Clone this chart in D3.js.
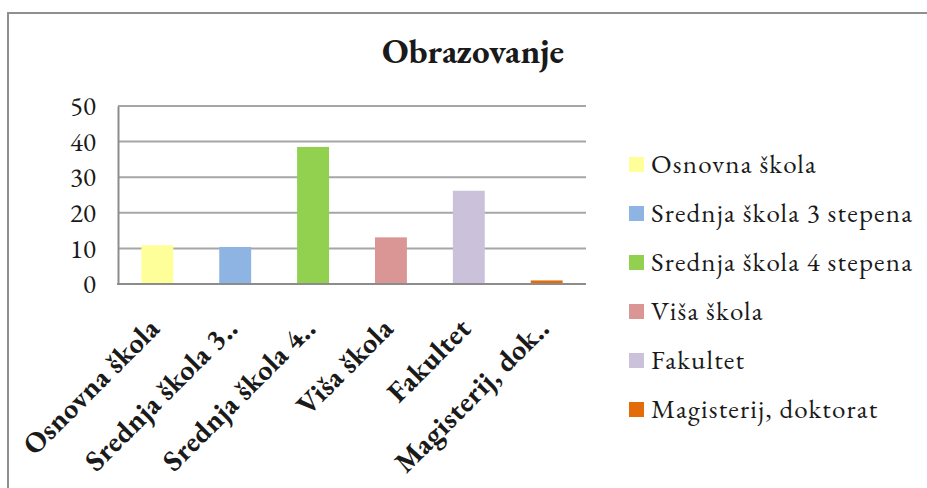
<!DOCTYPE html>
<html>
<head>
<meta charset="utf-8">
<script src="https://cdn.jsdelivr.net/npm/d3@7"></script>
<style>
  body { margin: 0; background: #fff; }
</style>
</head>
<body>
<div id="chart"></div>
<script>
// data
const categories = ["Osnovna škola", "Srednja škola 3 stepena", "Srednja škola 4 stepena", "Viša škola", "Fakultet", "Magisterij, doktorat"];
const tickLabels = ["Osnovna škola", "Srednja škola 3..", "Srednja škola 4..", "Viša škola", "Fakultet", "Magisterij, dok.."];
const values = [10.9, 10.4, 38.5, 13.1, 26.2, 1.0];
const colors = ["#FFFF99", "#8EB4E3", "#92D050", "#D99694", "#CCC1DA", "#E36C09"];
const yTicks = [0, 10, 20, 30, 40, 50];

const serif = "'EB Garamond', 'Liberation Serif'";
const width = 927, height = 488;
const margin = {top: 106, right: 341, bottom: 204, left: 118};

const svg = d3.select("#chart").append("svg")
    .attr("width", width)
    .attr("height", height);

// frame (cropped on the right and bottom)
svg.append("path")
    .attr("d", `M8,${height} V13 H${width}`)
    .attr("fill", "none")
    .attr("stroke", "#8f8f8f")
    .attr("stroke-width", 2);

svg.append("text")
    .attr("x", 473)
    .attr("y", 63)
    .attr("text-anchor", "middle")
    .attr("fill", "#1a1a1a")
    .style("font-family", serif)
    .style("font-size", "35px")
    .style("font-weight", "bold")
    .text("Obrazovanje");

const x = d3.scaleBand()
    .domain(categories)
    .range([margin.left, width - margin.right])
    .paddingInner(0.59)
    .paddingOuter(0.3);

const y = d3.scaleLinear()
    .domain([0, 50])
    .range([height - margin.bottom, margin.top]);

// gridlines
svg.append("g")
  .selectAll("line")
  .data(yTicks)
  .join("line")
    .attr("x1", margin.left)
    .attr("x2", width - margin.right)
    .attr("y1", d => y(d))
    .attr("y2", d => y(d))
    .attr("stroke", "#a6a6a6")
    .attr("stroke-width", 2);

// y axis
const yAxis = g => g
    .attr("transform", `translate(${margin.left},0)`)
    .call(d3.axisLeft(y).tickValues(yTicks).tickSize(0).tickPadding(22))
    .attr("font-family", null)
    .attr("font-size", null)
    .call(g => g.select(".domain").attr("stroke", "#8c8c8c").attr("stroke-width", 2))
    .call(g => g.selectAll("text")
        .style("font-family", serif)
        .style("font-size", "27px")
        .style("font-variant-numeric", "lining-nums")
        .attr("fill", "#1a1a1a"));

svg.append("g").call(yAxis);

// bars
svg.append("g")
  .selectAll("rect")
  .data(values)
  .join("rect")
    .attr("x", (d, i) => x(categories[i]))
    .attr("y", d => y(d))
    .attr("width", x.bandwidth())
    .attr("height", d => y(0) - y(d))
    .attr("fill", (d, i) => colors[i]);

// baseline
svg.append("line")
    .attr("x1", margin.left - 1)
    .attr("x2", width - margin.right)
    .attr("y1", y(0))
    .attr("y2", y(0))
    .attr("stroke", "#8c8c8c")
    .attr("stroke-width", 2);

// x labels, rotated
svg.append("g")
  .selectAll("text")
  .data(categories)
  .join("text")
    .attr("transform", d => `translate(${x(d) + x.bandwidth() / 2 + 4},330) rotate(-45)`)
    .attr("text-anchor", "end")
    .attr("fill", "#1a1a1a")
    .style("font-family", serif)
    .style("font-size", "29px")
    .style("font-weight", "bold")
    .style("letter-spacing", "0.4px")
    .text((d, i) => tickLabels[i]);

// legend
const legend = svg.append("g")
    .attr("transform", "translate(629,157)")
  .selectAll("g")
  .data(categories)
  .join("g")
    .attr("transform", (d, i) => `translate(0,${i * 49})`);

legend.append("rect")
    .attr("width", 15)
    .attr("height", 15)
    .attr("fill", (d, i) => colors[i]);

legend.append("text")
    .attr("x", 22)
    .attr("y", 16)
    .attr("fill", "#1a1a1a")
    .style("font-family", serif)
    .style("font-size", "27px")
    .style("letter-spacing", "1.2px")
    .text(d => d);
</script>
</body>
</html>
